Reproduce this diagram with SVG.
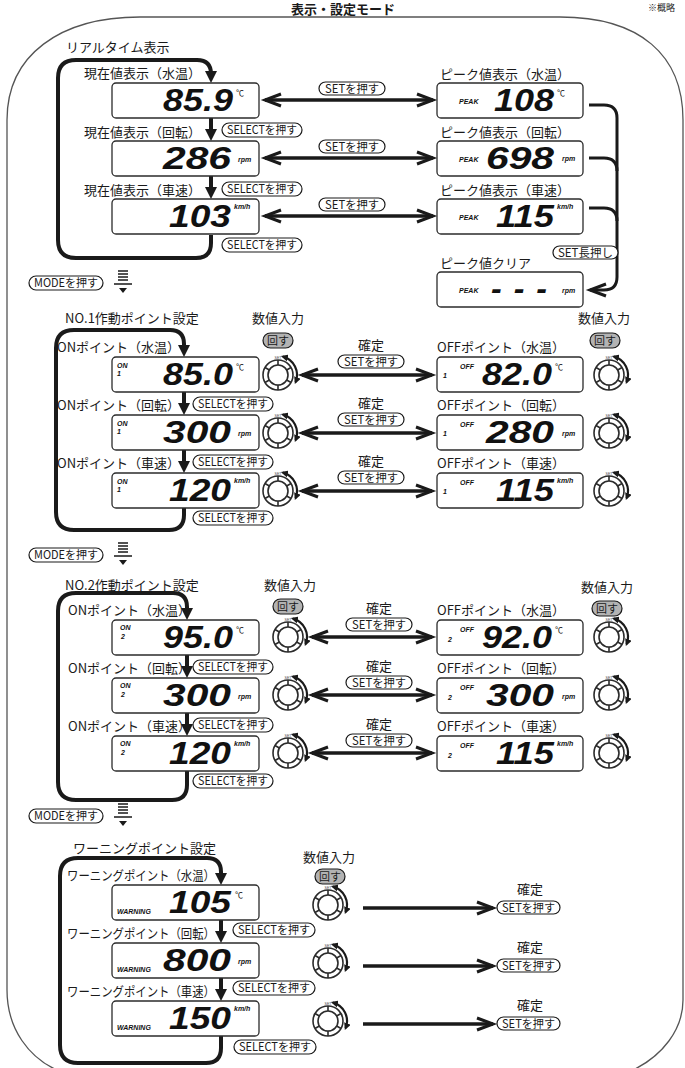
<svg xmlns="http://www.w3.org/2000/svg" width="685" height="1068" viewBox="0 0 685 1068">
<style>
.lbl{font-family:"Noto Sans CJK JP","Noto Sans CJK SC",sans-serif;font-size:13px;fill:#1a1a1a}
.mid{text-anchor:middle}
.pt{font-family:"Noto Sans CJK JP","Noto Sans CJK SC",sans-serif;font-size:11.5px;fill:#1a1a1a;text-anchor:middle}
.pill{fill:#fff;stroke:#1a1a1a;stroke-width:1.2}
.gpill{fill:#b3b3b3;stroke:#1a1a1a;stroke-width:1.2}
.box{fill:#fff;stroke:#2b2b2b;stroke-width:1.3}
.dig{font-family:"Liberation Sans",Arial,sans-serif;font-style:italic;font-weight:bold;font-size:32px;fill:#111;text-anchor:end}
.sm{font-family:"Liberation Sans",Arial,sans-serif;font-style:italic;font-weight:bold;font-size:7px;fill:#111}
.deg{font-family:"Noto Sans CJK JP",sans-serif;font-size:8px;fill:#111}
.loop{fill:none;stroke:#1a1a1a;stroke-width:4;stroke-linejoin:round}
.tri{fill:#1a1a1a}
.arr{fill:none;stroke:#1a1a1a;stroke-width:3.4}
.brk{fill:none;stroke:#1a1a1a;stroke-width:3}
.kn{fill:#fff;stroke:#2b2b2b;stroke-width:1.6}
.frame{fill:none;stroke:#555;stroke-width:1.3}
</style>
<defs>
<marker id="chev" viewBox="0 0 18 14" refX="17" refY="7" markerWidth="18" markerHeight="14" markerUnits="userSpaceOnUse" orient="auto-start-reverse" overflow="visible"><path d="M1 1L17 7L1 13" fill="none" stroke="#1a1a1a" stroke-width="3"/></marker>
<marker id="tri" viewBox="0 0 10 10" refX="7" refY="5" markerWidth="7" markerHeight="7" markerUnits="userSpaceOnUse" orient="auto-start-reverse"><path d="M0 0L10 5L0 10Z" fill="#1a1a1a"/></marker>
<g id="knob">
<circle r="15" class="kn"/>
<circle r="10" class="kn"/>
<path d="M0 -10V-15M8.66 -5L12.99 -7.5M8.66 5L12.99 7.5M0 10V15M-8.66 5L-12.99 7.5M-8.66 -5L-12.99 -7.5" stroke="#2b2b2b" stroke-width="1.6"/>
<text x="0" y="-16" font-size="3.5" text-anchor="middle" font-family="Liberation Sans,sans-serif" fill="#444">SET</text>
<path d="M4.92 -18.35A19 19 0 0 1 17.62 7.12" fill="none" stroke="#1a1a1a" stroke-width="2.2" marker-start="url(#tri)" marker-end="url(#tri)"/>
</g>
<g id="down">
<path d="M-5 -12H5M-5 -9H5M-5 -6H5M-5 -3H5M-9 1H9" stroke="#1a1a1a" stroke-width="1.6"/>
<path d="M-4 5H4L0 10Z" fill="#1a1a1a"/>
</g>
</defs>
<rect width="685" height="1068" fill="#fff"/>
<path class="frame" d="M57 1070C30 1058 7 1030 7 990L7 120C7 55 60 17 140 17L560 17C640 17 683 55 683 120L683 1000C683 1030 662 1056 633 1070"/>
<text x="343" y="14" font-family="Noto Sans CJK JP,sans-serif" font-size="13" font-weight="bold" text-anchor="middle" fill="#1a1a1a">表示・設定モード</text>
<text x="648" y="11" font-family="Noto Sans CJK JP,sans-serif" font-size="9" fill="#1a1a1a">※概略</text>

<g id="connectors">
<path class="loop" d="M211 235V243Q211 258 196 258H76Q58 258 58 240V78Q58 60 76 60H197Q211 60 211 74V76"/>
<polygon class="tri" points="205,71 217,71 211,83"/>
<path class="loop" d="M211 118V131M211 176V189"/>
<polygon class="tri" points="205,129 217,129 211,141"/>
<polygon class="tri" points="205,187 217,187 211,199"/>
<path class="arr" d="M265 100H433" marker-start="url(#chev)" marker-end="url(#chev)"/>
<path class="arr" d="M265 158H433" marker-start="url(#chev)" marker-end="url(#chev)"/>
<path class="arr" d="M265 216H433" marker-start="url(#chev)" marker-end="url(#chev)"/>
<path class="brk" d="M589 105H604Q617 105 617 118V277Q617 290 604 290H590" marker-end="url(#chev)"/>
<path class="brk" d="M589 158H604Q617 158 617 171M589 208H604Q617 208 617 221"/>
<path class="loop" d="M184 508V515Q184 530 169 530H74Q56 530 56 512V348Q56 330 74 330H170Q184 330 184 344V346"/>
<polygon class="tri" points="178,345 190,345 184,357"/>
<path class="loop" d="M184 392V405M184 450V463"/>
<polygon class="tri" points="178,403 190,403 184,415"/>
<polygon class="tri" points="178,461 190,461 184,473"/>
<path class="arr" d="M302 375H432" marker-start="url(#chev)" marker-end="url(#chev)"/>
<path class="arr" d="M302 433H432" marker-start="url(#chev)" marker-end="url(#chev)"/>
<path class="arr" d="M302 491H432" marker-start="url(#chev)" marker-end="url(#chev)"/>
<path class="loop" d="M187 771V785Q187 800 172 800H76Q58 800 58 782V611Q58 593 76 593H173Q187 593 187 607V609"/>
<polygon class="tri" points="181,608 193,608 187,620"/>
<path class="loop" d="M187 655V668M187 713V726"/>
<polygon class="tri" points="181,666 193,666 187,678"/>
<polygon class="tri" points="181,724 193,724 187,736"/>
<path class="arr" d="M312 637H432" marker-start="url(#chev)" marker-end="url(#chev)"/>
<path class="arr" d="M312 695H432" marker-start="url(#chev)" marker-end="url(#chev)"/>
<path class="arr" d="M312 753H432" marker-start="url(#chev)" marker-end="url(#chev)"/>
<path class="loop" d="M221 1036V1048Q221 1063 206 1063H78Q60 1063 60 1045V876Q60 858 78 858H207Q221 858 221 872V874"/>
<polygon class="tri" points="215,873 227,873 221,885"/>
<path class="loop" d="M221 920V933M221 978V991"/>
<polygon class="tri" points="215,931 227,931 221,943"/>
<polygon class="tri" points="215,989 227,989 221,1001"/>
<path class="arr" d="M363 908H493" marker-end="url(#chev)"/>
<path class="arr" d="M363 966H493" marker-end="url(#chev)"/>
<path class="arr" d="M363 1024H493" marker-end="url(#chev)"/>
</g>

<g id="s1-title"><text class="lbl" x="66" y="52">リアルタイム表示</text></g>
<g id="cur-water">
<text class="lbl" x="84" y="78">現在値表示（水温）</text>
<rect class="box" x="112" y="83" width="147" height="35" rx="4"/>
<text class="dig" x="233" y="111" textLength="70" lengthAdjust="spacingAndGlyphs">85.9</text>
<text class="deg" x="236" y="96">℃</text>
</g>
<g id="cur-rpm">
<text class="lbl" x="84" y="137">現在値表示（回転）</text>
<rect class="box" x="112" y="141" width="147" height="35" rx="4"/>
<text class="dig" x="231" y="169" textLength="68" lengthAdjust="spacingAndGlyphs">286</text>
<text class="sm" x="238" y="162">rpm</text>
</g>
<g id="cur-speed">
<text class="lbl" x="84" y="195">現在値表示（車速）</text>
<rect class="box" x="112" y="199" width="147" height="35" rx="4"/>
<text class="dig" x="231" y="227" textLength="62" lengthAdjust="spacingAndGlyphs">103</text>
<text class="sm" x="234" y="209">km/h</text>
</g>
<g id="peak-water">
<text class="lbl" x="440" y="79">ピーク値表示（水温）</text>
<rect class="box" x="437" y="83" width="146" height="35" rx="4"/>
<text class="sm" x="459" y="104">PEAK</text>
<text class="dig" x="554" y="111" textLength="60" lengthAdjust="spacingAndGlyphs">108</text>
<text class="deg" x="557" y="96">℃</text>
</g>
<g id="peak-rpm">
<text class="lbl" x="440" y="137">ピーク値表示（回転）</text>
<rect class="box" x="437" y="141" width="146" height="35" rx="4"/>
<text class="sm" x="459" y="162">PEAK</text>
<text class="dig" x="554" y="169" textLength="68" lengthAdjust="spacingAndGlyphs">698</text>
<text class="sm" x="562" y="161">rpm</text>
</g>
<g id="peak-speed">
<text class="lbl" x="440" y="195">ピーク値表示（車速）</text>
<rect class="box" x="437" y="199" width="146" height="35" rx="4"/>
<text class="sm" x="459" y="220">PEAK</text>
<text class="dig" x="554" y="227" textLength="58" lengthAdjust="spacingAndGlyphs">115</text>
<text class="sm" x="557" y="209">km/h</text>
</g>
<g id="peak-clear">
<text class="lbl" x="440" y="268">ピーク値クリア</text>
<rect class="box" x="437" y="272" width="146" height="35" rx="4"/>
<text class="sm" x="459" y="293">PEAK</text>
<text class="dig" x="547" y="299" textLength="56" lengthAdjust="spacing">- - -</text>
<text class="sm" x="562" y="293">rpm</text>
</g>
<g id="s1-pills">
<rect class="pill" x="319" y="82" width="66" height="13" rx="6.5"/><text class="pt" x="352" y="92.5" textLength="54" lengthAdjust="spacingAndGlyphs">SETを押す</text>
<rect class="pill" x="319" y="140" width="66" height="13" rx="6.5"/><text class="pt" x="352" y="150.5" textLength="54" lengthAdjust="spacingAndGlyphs">SETを押す</text>
<rect class="pill" x="319" y="198" width="66" height="13" rx="6.5"/><text class="pt" x="352" y="208.5" textLength="54" lengthAdjust="spacingAndGlyphs">SETを押す</text>
<rect class="pill" x="222" y="123" width="80" height="14" rx="7"/><text class="pt" x="262" y="134" textLength="70" lengthAdjust="spacingAndGlyphs">SELECTを押す</text>
<rect class="pill" x="222" y="182" width="80" height="14" rx="7"/><text class="pt" x="262" y="193" textLength="70" lengthAdjust="spacingAndGlyphs">SELECTを押す</text>
<rect class="pill" x="222" y="238" width="80" height="14" rx="7"/><text class="pt" x="262" y="249" textLength="70" lengthAdjust="spacingAndGlyphs">SELECTを押す</text>
<rect class="pill" x="553" y="246" width="65" height="13" rx="6.5"/><text class="pt" x="585.5" y="256.5" textLength="55" lengthAdjust="spacingAndGlyphs">SET長押し</text>
</g>
<g id="mode1">
<rect class="pill" x="29" y="276" width="74" height="14" rx="7"/><text class="pt" x="66" y="287" textLength="64" lengthAdjust="spacingAndGlyphs">MODEを押す</text>
<use href="#down" x="123" y="283"/>
</g>

<g id="s2-title">
<text class="lbl" x="65" y="323">NO.1作動ポイント設定</text>
<text class="lbl mid" x="278" y="323">数値入力</text>
<rect class="gpill" x="263" y="333" width="30" height="15" rx="7.5"/><text class="pt" x="278" y="345" textLength="22" lengthAdjust="spacingAndGlyphs">回す</text>
<text class="lbl mid" x="604" y="323">数値入力</text>
<rect class="gpill" x="590" y="333" width="30" height="15" rx="7.5"/><text class="pt" x="605" y="345" textLength="22" lengthAdjust="spacingAndGlyphs">回す</text>
</g>
<g id="n1-on-water">
<text class="lbl" x="57" y="352">ONポイント（水温）</text>
<rect class="box" x="112" y="357" width="147" height="35" rx="4"/>
<text class="sm" x="117" y="368">ON</text><text class="sm" x="117" y="376">1</text>
<text class="dig" x="233" y="385" textLength="70" lengthAdjust="spacingAndGlyphs">85.0</text>
<text class="deg" x="236" y="370">℃</text>
</g>
<g id="n1-on-rpm">
<text class="lbl" x="57" y="410">ONポイント（回転）</text>
<rect class="box" x="112" y="415" width="147" height="35" rx="4"/>
<text class="sm" x="117" y="426">ON</text><text class="sm" x="117" y="434">1</text>
<text class="dig" x="231" y="443" textLength="68" lengthAdjust="spacingAndGlyphs">300</text>
<text class="sm" x="238" y="436">rpm</text>
</g>
<g id="n1-on-speed">
<text class="lbl" x="57" y="468">ONポイント（車速）</text>
<rect class="box" x="112" y="473" width="147" height="35" rx="4"/>
<text class="sm" x="117" y="484">ON</text><text class="sm" x="117" y="492">1</text>
<text class="dig" x="231" y="501" textLength="62" lengthAdjust="spacingAndGlyphs">120</text>
<text class="sm" x="234" y="483">km/h</text>
</g>
<g id="n1-off-water">
<text class="lbl" x="437" y="352">OFFポイント（水温）</text>
<rect class="box" x="437" y="357" width="146" height="35" rx="4"/>
<text class="sm" x="443" y="378">1</text><text class="sm" x="460" y="369">OFF</text>
<text class="dig" x="552" y="385" textLength="70" lengthAdjust="spacingAndGlyphs">82.0</text>
<text class="deg" x="555" y="370">℃</text>
</g>
<g id="n1-off-rpm">
<text class="lbl" x="437" y="410">OFFポイント（回転）</text>
<rect class="box" x="437" y="415" width="146" height="35" rx="4"/>
<text class="sm" x="443" y="436">1</text><text class="sm" x="460" y="427">OFF</text>
<text class="dig" x="554" y="443" textLength="68" lengthAdjust="spacingAndGlyphs">280</text>
<text class="sm" x="562" y="436">rpm</text>
</g>
<g id="n1-off-speed">
<text class="lbl" x="437" y="468">OFFポイント（車速）</text>
<rect class="box" x="437" y="473" width="146" height="35" rx="4"/>
<text class="sm" x="443" y="494">1</text><text class="sm" x="460" y="485">OFF</text>
<text class="dig" x="554" y="501" textLength="58" lengthAdjust="spacingAndGlyphs">115</text>
<text class="sm" x="557" y="483">km/h</text>
</g>
<g id="n1-knobs">
<use href="#knob" x="278" y="375"/><use href="#knob" x="278" y="433"/><use href="#knob" x="278" y="491"/>
<use href="#knob" x="609" y="375"/><use href="#knob" x="609" y="433"/><use href="#knob" x="609" y="491"/>
</g>
<g id="n1-pills">
<text class="lbl mid" x="371" y="350">確定</text>
<rect class="pill" x="338" y="355" width="66" height="13" rx="6.5"/><text class="pt" x="371" y="365.5" textLength="54" lengthAdjust="spacingAndGlyphs">SETを押す</text>
<text class="lbl mid" x="371" y="408">確定</text>
<rect class="pill" x="338" y="413" width="66" height="13" rx="6.5"/><text class="pt" x="371" y="423.5" textLength="54" lengthAdjust="spacingAndGlyphs">SETを押す</text>
<text class="lbl mid" x="371" y="466">確定</text>
<rect class="pill" x="338" y="471" width="66" height="13" rx="6.5"/><text class="pt" x="371" y="481.5" textLength="54" lengthAdjust="spacingAndGlyphs">SETを押す</text>
<rect class="pill" x="193" y="397" width="80" height="14" rx="7"/><text class="pt" x="233" y="408" textLength="70" lengthAdjust="spacingAndGlyphs">SELECTを押す</text>
<rect class="pill" x="193" y="455" width="80" height="14" rx="7"/><text class="pt" x="233" y="466" textLength="70" lengthAdjust="spacingAndGlyphs">SELECTを押す</text>
<rect class="pill" x="193" y="511" width="80" height="14" rx="7"/><text class="pt" x="233" y="522" textLength="70" lengthAdjust="spacingAndGlyphs">SELECTを押す</text>
</g>
<g id="mode2">
<rect class="pill" x="29" y="548" width="74" height="14" rx="7"/><text class="pt" x="66" y="559" textLength="64" lengthAdjust="spacingAndGlyphs">MODEを押す</text>
<use href="#down" x="123" y="555"/>
</g>

<g id="s3-title">
<text class="lbl" x="65" y="590">NO.2作動ポイント設定</text>
<text class="lbl mid" x="290" y="590">数値入力</text>
<rect class="gpill" x="273" y="599" width="30" height="15" rx="7.5"/><text class="pt" x="288" y="611" textLength="22" lengthAdjust="spacingAndGlyphs">回す</text>
<text class="lbl mid" x="607" y="592">数値入力</text>
<rect class="gpill" x="592" y="601" width="30" height="15" rx="7.5"/><text class="pt" x="607" y="613" textLength="22" lengthAdjust="spacingAndGlyphs">回す</text>
</g>
<g id="n2-on-water">
<text class="lbl" x="68" y="615">ONポイント（水温）</text>
<rect class="box" x="112" y="620" width="147" height="35" rx="4"/>
<text class="sm" x="120" y="630">ON</text><text class="sm" x="121" y="639">2</text>
<text class="dig" x="233" y="648" textLength="70" lengthAdjust="spacingAndGlyphs">95.0</text>
<text class="deg" x="236" y="633">℃</text>
</g>
<g id="n2-on-rpm">
<text class="lbl" x="68" y="673">ONポイント（回転）</text>
<rect class="box" x="112" y="678" width="147" height="35" rx="4"/>
<text class="sm" x="120" y="688">ON</text><text class="sm" x="121" y="697">2</text>
<text class="dig" x="231" y="706" textLength="68" lengthAdjust="spacingAndGlyphs">300</text>
<text class="sm" x="238" y="699">rpm</text>
</g>
<g id="n2-on-speed">
<text class="lbl" x="68" y="731">ONポイント（車速）</text>
<rect class="box" x="112" y="736" width="147" height="35" rx="4"/>
<text class="sm" x="120" y="746">ON</text><text class="sm" x="121" y="755">2</text>
<text class="dig" x="231" y="764" textLength="62" lengthAdjust="spacingAndGlyphs">120</text>
<text class="sm" x="234" y="746">km/h</text>
</g>
<g id="n2-off-water">
<text class="lbl" x="437" y="615">OFFポイント（水温）</text>
<rect class="box" x="437" y="620" width="146" height="35" rx="4"/>
<text class="sm" x="448" y="642">2</text><text class="sm" x="460" y="632">OFF</text>
<text class="dig" x="552" y="648" textLength="70" lengthAdjust="spacingAndGlyphs">92.0</text>
<text class="deg" x="555" y="633">℃</text>
</g>
<g id="n2-off-rpm">
<text class="lbl" x="437" y="673">OFFポイント（回転）</text>
<rect class="box" x="437" y="678" width="146" height="35" rx="4"/>
<text class="sm" x="448" y="700">2</text><text class="sm" x="460" y="690">OFF</text>
<text class="dig" x="554" y="706" textLength="68" lengthAdjust="spacingAndGlyphs">300</text>
<text class="sm" x="562" y="699">rpm</text>
</g>
<g id="n2-off-speed">
<text class="lbl" x="437" y="731">OFFポイント（車速）</text>
<rect class="box" x="437" y="736" width="146" height="35" rx="4"/>
<text class="sm" x="448" y="758">2</text><text class="sm" x="460" y="748">OFF</text>
<text class="dig" x="554" y="764" textLength="58" lengthAdjust="spacingAndGlyphs">115</text>
<text class="sm" x="557" y="746">km/h</text>
</g>
<g id="n2-knobs">
<use href="#knob" x="288" y="637"/><use href="#knob" x="288" y="695"/><use href="#knob" x="288" y="753"/>
<use href="#knob" x="609" y="637"/><use href="#knob" x="609" y="695"/><use href="#knob" x="609" y="753"/>
</g>
<g id="n2-pills">
<text class="lbl mid" x="379" y="613">確定</text>
<rect class="pill" x="346" y="618" width="66" height="13" rx="6.5"/><text class="pt" x="379" y="628.5" textLength="54" lengthAdjust="spacingAndGlyphs">SETを押す</text>
<text class="lbl mid" x="379" y="671">確定</text>
<rect class="pill" x="346" y="676" width="66" height="13" rx="6.5"/><text class="pt" x="379" y="686.5" textLength="54" lengthAdjust="spacingAndGlyphs">SETを押す</text>
<text class="lbl mid" x="379" y="729">確定</text>
<rect class="pill" x="346" y="734" width="66" height="13" rx="6.5"/><text class="pt" x="379" y="744.5" textLength="54" lengthAdjust="spacingAndGlyphs">SETを押す</text>
<rect class="pill" x="193" y="660" width="80" height="14" rx="7"/><text class="pt" x="233" y="671" textLength="70" lengthAdjust="spacingAndGlyphs">SELECTを押す</text>
<rect class="pill" x="193" y="718" width="80" height="14" rx="7"/><text class="pt" x="233" y="729" textLength="70" lengthAdjust="spacingAndGlyphs">SELECTを押す</text>
<rect class="pill" x="193" y="774" width="80" height="14" rx="7"/><text class="pt" x="233" y="785" textLength="70" lengthAdjust="spacingAndGlyphs">SELECTを押す</text>
</g>
<g id="mode3">
<rect class="pill" x="29" y="809" width="74" height="14" rx="7"/><text class="pt" x="66" y="820" textLength="64" lengthAdjust="spacingAndGlyphs">MODEを押す</text>
<use href="#down" x="123" y="816"/>
</g>

<g id="s4-title">
<text class="lbl" x="73" y="853">ワーニングポイント設定</text>
<text class="lbl mid" x="329" y="862">数値入力</text>
<rect class="gpill" x="315" y="869" width="30" height="15" rx="7.5"/><text class="pt" x="330" y="881" textLength="22" lengthAdjust="spacingAndGlyphs">回す</text>
</g>
<g id="w-water">
<text class="lbl" x="67" y="880" textLength="148" lengthAdjust="spacingAndGlyphs">ワーニングポイント（水温）</text>
<rect class="box" x="112" y="885" width="147" height="35" rx="4"/>
<text class="sm" x="117" y="914">WARNING</text>
<text class="dig" x="231" y="913" textLength="62" lengthAdjust="spacingAndGlyphs">105</text>
<text class="deg" x="235" y="898">℃</text>
</g>
<g id="w-rpm">
<text class="lbl" x="67" y="938" textLength="148" lengthAdjust="spacingAndGlyphs">ワーニングポイント（回転）</text>
<rect class="box" x="112" y="943" width="147" height="35" rx="4"/>
<text class="sm" x="117" y="972">WARNING</text>
<text class="dig" x="231" y="971" textLength="68" lengthAdjust="spacingAndGlyphs">800</text>
<text class="sm" x="238" y="964">rpm</text>
</g>
<g id="w-speed">
<text class="lbl" x="67" y="996" textLength="148" lengthAdjust="spacingAndGlyphs">ワーニングポイント（車速）</text>
<rect class="box" x="112" y="1001" width="147" height="35" rx="4"/>
<text class="sm" x="117" y="1030">WARNING</text>
<text class="dig" x="231" y="1029" textLength="62" lengthAdjust="spacingAndGlyphs">150</text>
<text class="sm" x="234" y="1011">km/h</text>
</g>
<g id="w-knobs">
<use href="#knob" x="328" y="905"/><use href="#knob" x="328" y="963"/><use href="#knob" x="328" y="1021"/>
</g>
<g id="w-pills">
<rect class="pill" x="233" y="923" width="82" height="14" rx="7"/><text class="pt" x="274" y="934" textLength="72" lengthAdjust="spacingAndGlyphs">SELECTを押す</text>
<rect class="pill" x="233" y="981" width="82" height="14" rx="7"/><text class="pt" x="274" y="992" textLength="72" lengthAdjust="spacingAndGlyphs">SELECTを押す</text>
<rect class="pill" x="234" y="1040" width="82" height="14" rx="7"/><text class="pt" x="275" y="1051" textLength="72" lengthAdjust="spacingAndGlyphs">SELECTを押す</text>
<text class="lbl mid" x="530" y="894">確定</text>
<rect class="pill" x="497" y="901" width="63" height="13" rx="6.5"/><text class="pt" x="528.5" y="911.5" textLength="53" lengthAdjust="spacingAndGlyphs">SETを押す</text>
<text class="lbl mid" x="530" y="952">確定</text>
<rect class="pill" x="497" y="959" width="63" height="13" rx="6.5"/><text class="pt" x="528.5" y="969.5" textLength="53" lengthAdjust="spacingAndGlyphs">SETを押す</text>
<text class="lbl mid" x="530" y="1010">確定</text>
<rect class="pill" x="497" y="1017" width="63" height="13" rx="6.5"/><text class="pt" x="528.5" y="1027.5" textLength="53" lengthAdjust="spacingAndGlyphs">SETを押す</text>
</g>
</svg>
